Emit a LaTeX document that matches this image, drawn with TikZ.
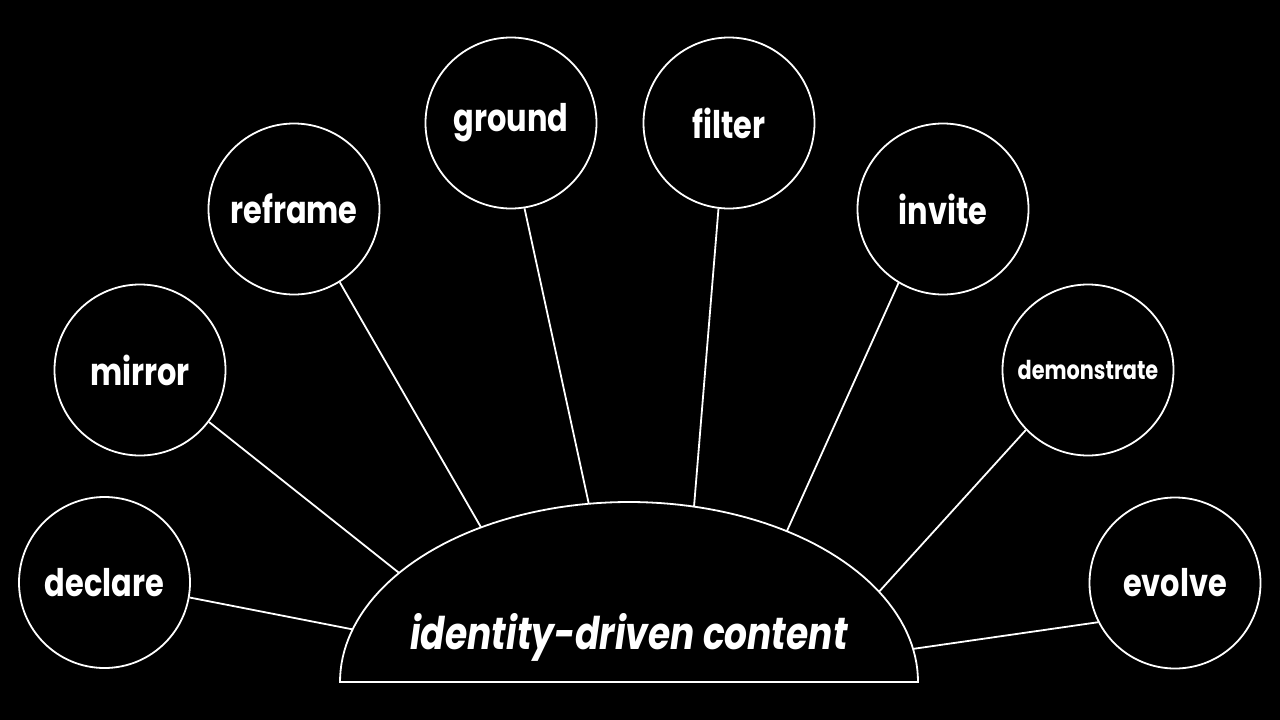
\documentclass[tikz,border=0pt]{standalone}
\usepackage{fontspec}
\setmainfont{Poppins}[FakeStretch=0.8]
\usepackage{tikz}
\usetikzlibrary{positioning, calc}

\begin{document}
\begin{tikzpicture}[x=1pt, y=-1pt, word/.style={circle,draw=white,fill=black,line width=1.8pt,minimum size=171pt,inner sep=0pt,text=white,font=\bfseries\fontsize{38}{40}\selectfont}, link/.style={draw=white,line width=1.8pt}]
        \useasboundingbox (0,0) rectangle (1280,720);
        \fill[black] (0,0) rectangle (1280,720);

        % central half ellipse
        \draw[link, fill=black] plot[domain=0:180, samples=91] ({629+289*cos(\x)},{682-180*sin(\x)}) -- cycle;
        \node[text=white, font=\bfseries\itshape\fontsize{45}{48}\selectfont] (core) at (629,637) {identity-driven content};

        % points on the rim
        \foreach \n/\t in {1/163, 2/142.7, 3/120.8, 4/98, 5/77, 6/56.9, 7/30.1, 8/10.6}
            \coordinate (e\n) at ({629+289*cos(\t)},{682-180*sin(\t)});

        \node[word] (declare) at (104.5,582.5) {declare};
        \node[word] (mirror) at (140,370) {mirror};
        \node[word] (reframe) at (294,209) {reframe};
        \node[word] (ground) at (511,123) {ground};
        \node[word] (filter) at (729,123) {filter};
        \node[word] (invite) at (943,209) {invite};
        \node[word, font=\bfseries\fontsize{26}{28}\selectfont] (demonstrate) at (1088,370) {demonstrate};
        \node[word] (evolve) at (1175,583) {evolve};

        \path[link] (declare.350) -- (e1);
        \path[link] (mirror.323) -- (e2);
        \path[link] (reframe.302) -- (e3);
        \path[link] (ground.279) -- (e4);
        \path[link] (filter.263) -- (e5);
        \path[link] (invite.239) -- (e6);
        \path[link] (demonstrate.224) -- (e7);
        \path[link] (evolve.207) -- (e8);
    \end{tikzpicture}
\end{document}
